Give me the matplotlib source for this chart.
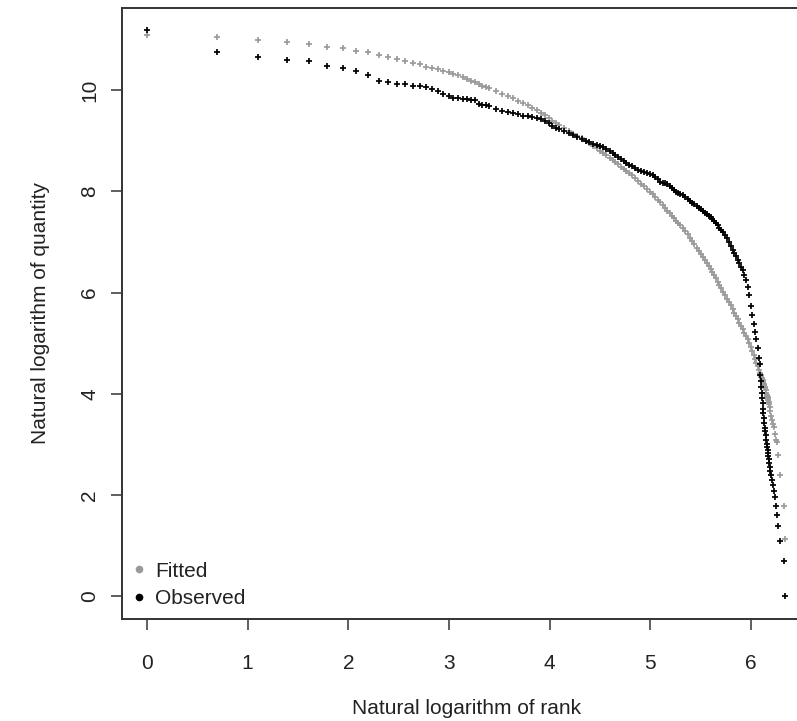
import numpy as np
import matplotlib
matplotlib.use("Agg")
import matplotlib.pyplot as plt
from matplotlib.lines import Line2D

plt.rcParams['font.family'] = ['Liberation Sans', 'DejaVu Sans']

# ---- data ----
ranks = [1, 2, 3, 4, 5, 6, 7, 8, 9, 10, 11, 12, 13, 14, 15, 16, 17, 18,
         19, 20, 21, 22, 23, 24, 25, 26, 27, 28, 29, 30,
         32, 34, 36, 38, 40, 42, 44, 46, 48, 50, 52, 54, 56, 58, 60,
         63, 66, 69, 72, 75, 78, 81, 84, 87, 90, 93, 96, 99, 102, 105, 108, 111, 114, 117, 120,
         124, 128, 132, 136, 140, 144, 148, 152, 156, 160, 164, 168, 172, 176, 180, 184, 188, 192, 196, 200,
         205, 210, 215, 220, 225, 230, 235, 240, 245, 250, 255, 260, 265, 270, 275, 280, 285, 290, 295, 300,
         306, 312, 318, 324, 330, 336, 342, 348, 354, 360, 366, 372, 378, 384, 390, 396, 402, 408, 414, 420,
         426, 432, 438,
         441, 443, 445, 447, 449, 451, 453, 456, 457, 458, 460, 462, 464, 467, 470, 473, 475, 476, 477, 479,
         481, 484, 487, 490, 494, 497, 501, 505, 513, 520, 522, 529, 536, 559, 568]

fitted = [11.09, 11.06, 10.99, 10.96, 10.92, 10.86, 10.83, 10.78, 10.75, 10.69, 10.65, 10.62, 10.57, 10.54,
          10.51, 10.46, 10.43, 10.41,
          10.38, 10.35, 10.32, 10.29, 10.25, 10.22, 10.19, 10.16, 10.12, 10.09, 10.06, 10.04,
          9.99, 9.93, 9.89, 9.84, 9.78, 9.74, 9.70, 9.65, 9.60, 9.55, 9.50, 9.45, 9.40, 9.35, 9.31,
          9.26, 9.20, 9.14, 9.09, 9.05, 9.00, 8.95, 8.90, 8.85, 8.80, 8.75, 8.71, 8.66, 8.62, 8.58, 8.54,
          8.49, 8.45, 8.41, 8.37,
          8.32, 8.26, 8.21, 8.15, 8.10, 8.04, 7.99, 7.94, 7.88, 7.83, 7.78, 7.73, 7.68, 7.62, 7.57, 7.52,
          7.47, 7.42, 7.38, 7.33,
          7.27, 7.21, 7.15, 7.08, 7.02, 6.95, 6.88, 6.82, 6.76, 6.70, 6.64, 6.58, 6.52, 6.47, 6.40, 6.34,
          6.28, 6.21, 6.15, 6.09,
          6.02, 5.95, 5.88, 5.81, 5.75, 5.68, 5.60, 5.54, 5.47, 5.40, 5.33, 5.27, 5.20, 5.14, 5.08, 5.00,
          4.92, 4.84, 4.76, 4.69, 4.61, 4.54, 4.46,
          4.42, 4.39, 4.37, 4.34, 4.32, 4.29, 4.27, 4.23, 4.22, 4.20, 4.17, 4.14, 4.11, 4.07, 4.02, 3.98,
          3.95, 3.93, 3.91, 3.88, 3.84, 3.79, 3.73, 3.66, 3.57, 3.49, 3.41, 3.34, 3.20, 3.08, 3.04, 2.78,
          2.40, 1.79, 1.12]

observed = [11.18, 10.75, 10.65, 10.60, 10.57, 10.48, 10.43, 10.37, 10.30, 10.19, 10.16, 10.12, 10.12, 10.09,
            10.09, 10.06, 10.03, 9.99,
            9.93, 9.88, 9.84, 9.84, 9.83, 9.82, 9.81, 9.80, 9.73, 9.71, 9.70, 9.69,
            9.63, 9.58, 9.57, 9.55, 9.53, 9.49, 9.48, 9.46, 9.44, 9.42, 9.39, 9.36, 9.30, 9.26, 9.23,
            9.20, 9.16, 9.11, 9.07, 9.03, 9.00, 8.97, 8.94, 8.92, 8.90, 8.88, 8.84, 8.80, 8.76, 8.72, 8.68,
            8.64, 8.60, 8.56, 8.53,
            8.50, 8.47, 8.43, 8.41, 8.39, 8.37, 8.35, 8.33, 8.29, 8.24, 8.19, 8.17, 8.16, 8.14, 8.10, 8.06,
            8.02, 7.98, 7.96, 7.95,
            7.92, 7.88, 7.84, 7.80, 7.77, 7.75, 7.71, 7.68, 7.65, 7.62, 7.58, 7.55, 7.52, 7.49, 7.45, 7.41,
            7.37, 7.33, 7.28, 7.24,
            7.20, 7.14, 7.07, 7.00, 6.92, 6.84, 6.78, 6.72, 6.65, 6.58, 6.51, 6.44, 6.35, 6.24, 6.10, 5.95,
            5.74, 5.55, 5.38, 5.22, 5.08, 4.90, 4.70,
            4.58, 4.38, 4.25, 4.13, 4.01, 3.91, 3.81, 3.69, 3.61, 3.53, 3.43, 3.33, 3.26, 3.18, 3.09, 3.00,
            2.94, 2.89, 2.83, 2.77, 2.71, 2.64, 2.56, 2.48, 2.40, 2.30, 2.20, 2.08, 1.95, 1.79, 1.61, 1.39,
            1.10, 0.69, 0.00]

x_ticks = [0, 1, 2, 3, 4, 5, 6]
y_ticks = [0, 2, 4, 6, 8, 10]
series_labels = ["Fitted", "Observed"]

# ---- figure ----
W, H = 797, 721
fig = plt.figure(figsize=(W / 100, H / 100), dpi=100)
left, right, top, bottom = 121.5, 810.9, 7.8, 618.8
ax = fig.add_axes([left / W, (H - bottom) / H, (right - left) / W, (bottom - top) / H])

logr = np.log(np.array(ranks, dtype=float))
gray = '#9a9a9a'
ink = '#222222'

ax.plot(logr, fitted, linestyle='none', marker='+', ms=4.2, mew=1.25, color=gray)
ax.plot(logr, observed, linestyle='none', marker='+', ms=4.2, mew=1.25, color='black')

xmax = logr.max()
ymax = max(max(fitted), max(observed))
ax.set_xlim(-0.04 * xmax, xmax * 1.04)
ax.set_ylim(-0.04 * ymax, ymax * 1.04)

ax.set_xticks(x_ticks)
ax.set_yticks(y_ticks)
ax.set_xticklabels([str(t) for t in x_ticks])
ax.set_yticklabels([str(t) for t in y_ticks], rotation=90, va='center')

for sp in ax.spines.values():
    sp.set_linewidth(1.4)
    sp.set_color('#333333')

ax.tick_params(axis='both', direction='out', length=8, width=1.1, color='#333333',
               labelsize=15, labelcolor=ink)
ax.tick_params(axis='x', pad=17)
ax.tick_params(axis='y', pad=8)

ax.set_xlabel("Natural logarithm of rank", fontsize=15, color=ink, labelpad=19)
ax.set_ylabel("Natural logarithm of quantity", fontsize=15, color=ink, labelpad=21.5)

handles = [Line2D([], [], linestyle='none', marker='o', ms=4.5, color=gray),
           Line2D([], [], linestyle='none', marker='o', ms=4.5, color='black')]
ax.legend(handles, series_labels, loc='lower left', frameon=False, fontsize=15,
          handlelength=0.6, handletextpad=0.5, borderaxespad=0.12, borderpad=0.4,
          labelspacing=0.4, labelcolor=ink)

fig.savefig("out.png", dpi=100)
